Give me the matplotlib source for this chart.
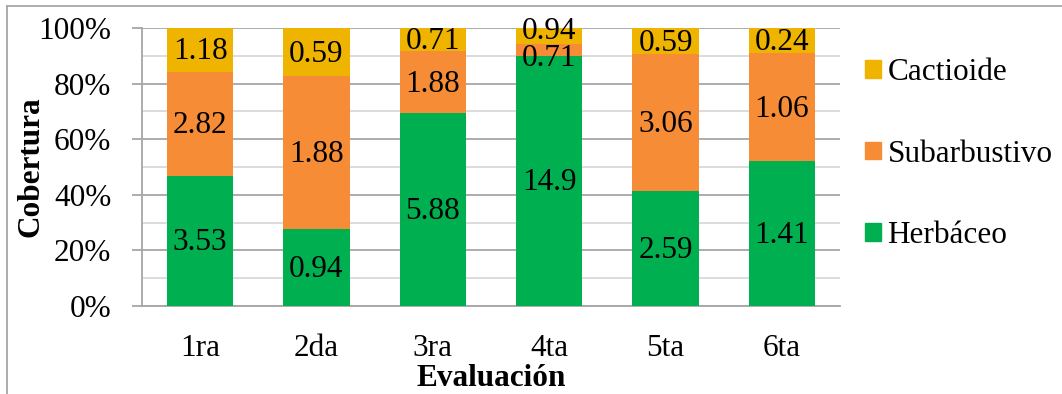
import numpy as np
import matplotlib.pyplot as plt
from matplotlib.lines import Line2D
from matplotlib.patches import Patch
from matplotlib.ticker import MultipleLocator, PercentFormatter

evaluaciones = ["1ra", "2da", "3ra", "4ta", "5ta", "6ta"]
herbaceo = [3.53, 0.94, 5.88, 14.9, 2.59, 1.41]
subarbustivo = [2.82, 1.88, 1.88, 0.71, 3.06, 1.06]
cactioide = [1.18, 0.59, 0.71, 0.94, 0.59, 0.24]

series = [("Herbáceo", herbaceo, "#00B050"),
          ("Subarbustivo", subarbustivo, "#F68D36"),
          ("Cactioide", cactioide, "#EEB400")]

plt.rcParams['font.family'] = ['Liberation Serif', 'DejaVu Serif']
FS = 22.5

fig = plt.figure(figsize=(10.62, 3.94), dpi=100)
ax = fig.add_axes([142/1062, 88/394, 698/1062, 278/394])

totals = np.array(herbaceo) + np.array(subarbustivo) + np.array(cactioide)
x = np.arange(len(evaluaciones))
bottom = np.zeros(len(x))

# labels in very thin segments get pushed apart so they don't collide
nudge = {("Subarbustivo", 3): -5, ("Cactioide", 3): 5}

for name, vals, col in series:
    pct = np.array(vals) / totals * 100
    ax.bar(x, pct, 0.57, bottom=bottom, color=col, zorder=3)
    for i, (v, p) in enumerate(zip(vals, pct)):
        ax.annotate(f"{v:g}", (x[i], bottom[i] + p / 2),
                    xytext=(0, nudge.get((name, i), 0) - 1.5),
                    textcoords="offset points", ha="center", va="center",
                    fontsize=FS, color="black", zorder=4)
    bottom += pct

ax.set_xlim(-0.5, len(x) - 0.5)
ax.set_ylim(0, 100)
ax.yaxis.set_major_locator(MultipleLocator(20))
ax.yaxis.set_minor_locator(MultipleLocator(10))
ax.yaxis.set_major_formatter(PercentFormatter(decimals=0))
ax.grid(axis="y", which="major", color="#A6A6A6", lw=1.3, zorder=1)
ax.grid(axis="y", which="minor", color="#D9D9D9", lw=1.3, zorder=1)
ax.set_xticks(x, evaluaciones)
ax.tick_params(axis="x", length=0, pad=20, labelsize=FS)
ax.tick_params(axis="y", which="major", length=7, width=1.3, color="#A6A6A6",
               labelsize=FS, pad=15)
ax.tick_params(axis="y", which="minor", length=0)
for s in ["top", "right"]:
    ax.spines[s].set_visible(False)
for s in ["left", "bottom"]:
    ax.spines[s].set_color("#A6A6A6")
    ax.spines[s].set_linewidth(1.3)

ax.set_xlabel("Evaluación", fontsize=FS, fontweight="bold", labelpad=1)
ax.set_ylabel("Cobertura", fontsize=FS, fontweight="bold")
ax.yaxis.set_label_coords(-97/698, 0.5)

handles = [Patch(color=c, label=n) for n, _, c in reversed(series)]
fig.legend(handles=handles, loc="upper left", bbox_to_anchor=(865/1062, 1 - 58/394),
           frameon=False, fontsize=FS, handlelength=0.5, handleheight=0.5,
           handletextpad=0.22, labelspacing=1.68, borderaxespad=0,
           borderpad=0)

# chart area border
fig.add_artist(Line2D([7/1062, 1], [1 - 6/394] * 2, color="#A6A6A6", lw=1.3))
fig.add_artist(Line2D([7/1062] * 2, [0, 1 - 6/394], color="#A6A6A6", lw=1.3))

fig.savefig("out.png", dpi=100)
